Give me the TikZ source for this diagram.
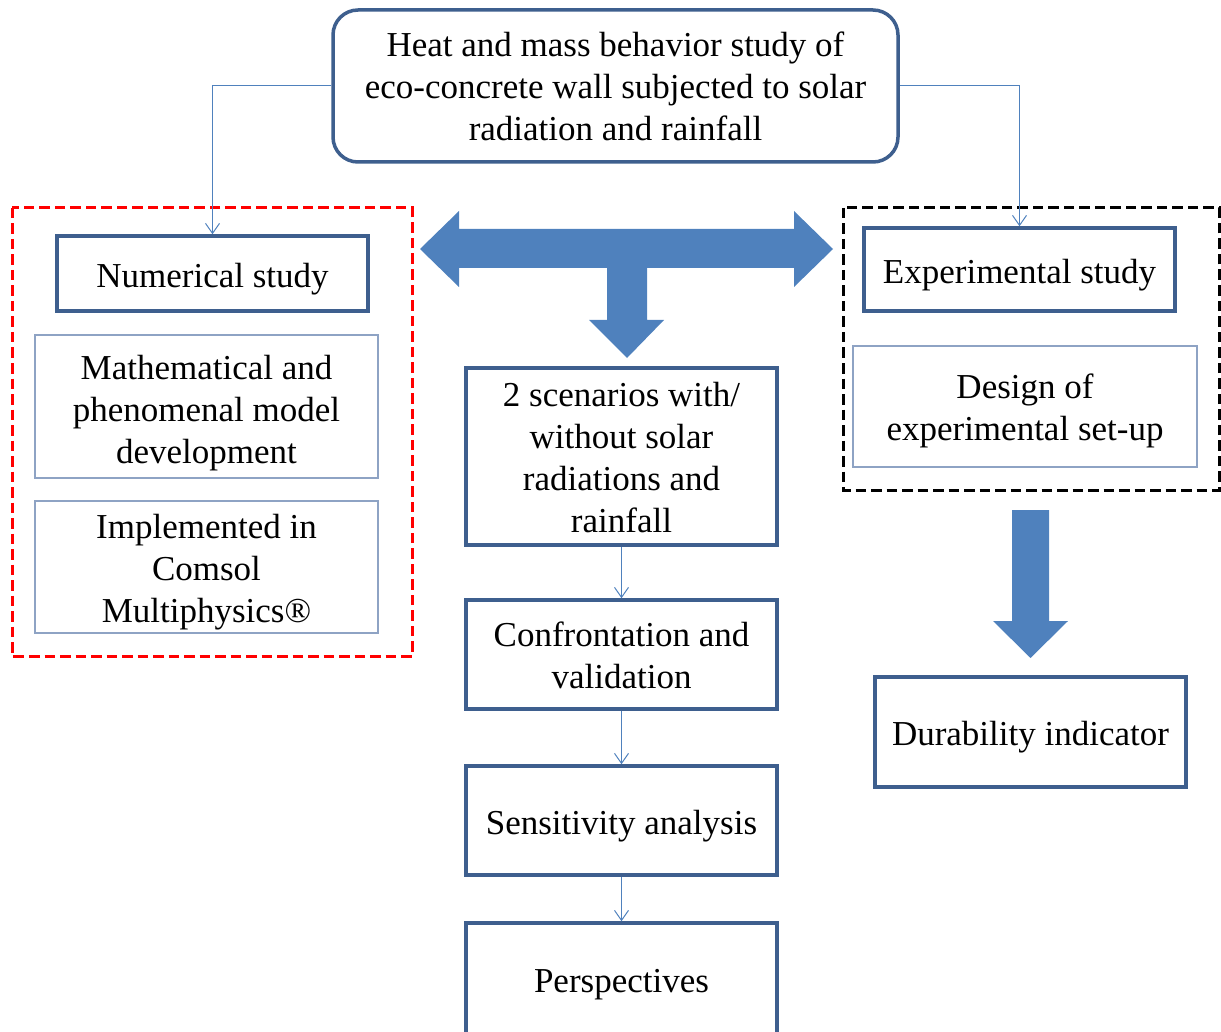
\documentclass[tikz,border=0pt]{standalone}
\usepackage{fontspec}
\setmainfont{Liberation Serif}
\usetikzlibrary{arrows.meta}
\definecolor{boxblue}{HTML}{3E5F8E}
\definecolor{thinblue}{HTML}{8EA3C4}
\definecolor{arrblue}{HTML}{4F81BD}
% invisible strut that pushes the text of a node down
\newcommand\pushdown[1]{\rule{0pt}{#1}}
\begin{document}
\begin{tikzpicture}[x=1pt,y=-1pt,
  font=\fontsize{35}{42}\selectfont,
  thickbox/.style={draw=boxblue, line width=3.5pt, fill=white, rectangle, align=center, inner sep=0pt},
  thinbox/.style={draw=thinblue, line width=1.3pt, fill=white, rectangle, align=center, inner sep=0pt},
  conn/.style={draw=arrblue, line width=1pt, -{Straight Barb[length=10pt,width=14pt,line width=1pt]}},
  bigarrow/.style={fill=arrblue, draw=none},
  group/.style={line width=3pt, dash pattern=on 10.5pt off 5pt}]
\useasboundingbox (0,0) rectangle (1221,1032);
\clip (0,0) rectangle (1221,1032);

% dashed groups
\draw[group, draw=red] (12,208) rectangle (412,656);
\draw[group, draw=black] (843,208) rectangle (1219,490);

% big arrows
\fill[bigarrow] (420,249) -- (459,211) -- (459,229) -- (794,229) -- (794,211) -- (833,249)
  -- (794,287) -- (794,268) -- (647,268) -- (647,320) -- (664,320) -- (627,358)
  -- (589,320) -- (607,320) -- (607,268) -- (459,268) -- (459,287) -- cycle;
\fill[bigarrow] (1012,510) -- (1049,510) -- (1049,621) -- (1068,621) -- (1030.5,658)
  -- (993,621) -- (1012,621) -- cycle;

% nodes
\node[thickbox, rounded corners=25pt, minimum width=565pt, minimum height=152pt] (top) at (615.5,86)
  {\pushdown{26pt}Heat and mass behavior study of\\eco-concrete wall subjected to solar\\radiation and rainfall};
\node[thickbox, minimum width=311pt, minimum height=75pt] (num) at (212.5,273.5)
  {\pushdown{35pt}Numerical study};
\node[thinbox, minimum width=343pt, minimum height=143pt] (math) at (206.5,406.5)
  {\pushdown{38pt}Mathematical and\\phenomenal model\\development};
\node[thinbox, minimum width=343pt, minimum height=132pt] (impl) at (206.5,567)
  {\pushdown{34pt}Implemented in\\Comsol\\Multiphysics®};
\node[thickbox, minimum width=311pt, minimum height=83pt] (exp) at (1019.5,269.5)
  {\pushdown{36pt}Experimental study};
\node[thinbox, minimum width=344pt, minimum height=121pt] (design) at (1025,406.5)
  {\pushdown{34pt}Design of\\experimental set-up};
\node[thickbox, minimum width=311pt, minimum height=177pt] (scen) at (621.5,456.5)
  {\pushdown{26pt}2 scenarios with/\\without solar\\radiations and\\rainfall};
\node[thickbox, minimum width=311pt, minimum height=109pt] (conf) at (621.5,654.5)
  {\pushdown{26pt}Confrontation and\\validation};
\node[thickbox, minimum width=311pt, minimum height=109pt] (sens) at (621.5,820.5)
  {\pushdown{36pt}Sensitivity analysis};
\node[thickbox, minimum width=311pt, minimum height=118pt] (persp) at (621.5,982)
  {\pushdown{28pt}Perspectives};
\node[thickbox, minimum width=311pt, minimum height=110pt] (dur) at (1030.5,732)
  {\pushdown{34pt}Durability indicator};

% connectors
\draw[conn] (top.west) -| (num.north);
\draw[conn] (top.east) -| (exp.north);
\draw[conn] (scen.south) -- (conf.north);
\draw[conn] (conf.south) -- (sens.north);
\draw[conn] (sens.south) -- (persp.north);
\end{tikzpicture}
\end{document}
